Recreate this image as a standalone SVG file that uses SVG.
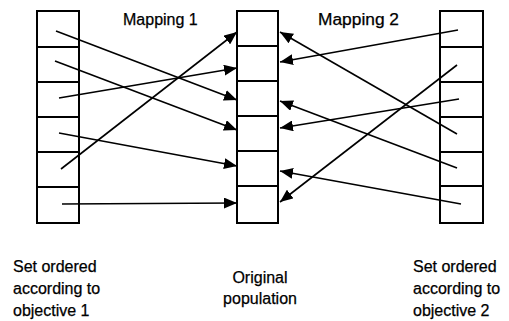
<svg xmlns="http://www.w3.org/2000/svg" width="509" height="321" viewBox="0 0 509 321">
<style>
.cell{fill:#fff;stroke:#000;stroke-width:2}
.conn{stroke:#000;stroke-width:1.6;fill:none}
text{font-family:"Liberation Sans",Arial,sans-serif;font-size:16px;fill:#000;stroke:#000;stroke-width:0.25}
</style>
<defs>
<marker id="ah" viewBox="0 0 13 11" refX="13" refY="5.5" markerWidth="13" markerHeight="11" markerUnits="userSpaceOnUse" orient="auto">
<path d="M0,0 L13,5.5 L0,11 Z" fill="#000"/>
</marker>
</defs>
<rect width="509" height="321" fill="#fff"/>
<g id="left-set">
<rect class="cell" x="37" y="11" width="42" height="36"/>
<rect class="cell" x="37" y="47" width="42" height="35"/>
<rect class="cell" x="37" y="82" width="42" height="35"/>
<rect class="cell" x="37" y="117" width="42" height="35"/>
<rect class="cell" x="37" y="152" width="42" height="35"/>
<rect class="cell" x="37" y="187" width="42" height="36"/>
</g>
<g id="original-population">
<rect class="cell" x="237" y="11" width="41" height="35"/>
<rect class="cell" x="237" y="46" width="41" height="35"/>
<rect class="cell" x="237" y="81" width="41" height="35"/>
<rect class="cell" x="237" y="116" width="41" height="35"/>
<rect class="cell" x="237" y="151" width="41" height="35"/>
<rect class="cell" x="237" y="186" width="41" height="37"/>
</g>
<g id="right-set">
<rect class="cell" x="440" y="11" width="43" height="36"/>
<rect class="cell" x="440" y="47" width="43" height="35"/>
<rect class="cell" x="440" y="82" width="43" height="35"/>
<rect class="cell" x="440" y="117" width="43" height="35"/>
<rect class="cell" x="440" y="152" width="43" height="34"/>
<rect class="cell" x="440" y="186" width="43" height="37"/>
</g>
<g id="connectors">
<line class="conn" x1="56" y1="31" x2="237" y2="100" marker-end="url(#ah)"/>
<line class="conn" x1="55" y1="61" x2="237" y2="130" marker-end="url(#ah)"/>
<line class="conn" x1="59" y1="98" x2="237" y2="68" marker-end="url(#ah)"/>
<line class="conn" x1="59" y1="133" x2="237" y2="166" marker-end="url(#ah)"/>
<line class="conn" x1="61" y1="169" x2="237" y2="32" marker-end="url(#ah)"/>
<line class="conn" x1="62" y1="204" x2="237" y2="203" marker-end="url(#ah)"/>
<line class="conn" x1="458" y1="30" x2="280" y2="62" marker-end="url(#ah)"/>
<line class="conn" x1="457" y1="65" x2="280" y2="202" marker-end="url(#ah)"/>
<line class="conn" x1="459" y1="99" x2="280" y2="128" marker-end="url(#ah)"/>
<line class="conn" x1="457" y1="134" x2="280" y2="32" marker-end="url(#ah)"/>
<line class="conn" x1="457" y1="168" x2="280" y2="101" marker-end="url(#ah)"/>
<line class="conn" x1="461" y1="204" x2="280" y2="171" marker-end="url(#ah)"/>
</g>
<g id="labels">
<text x="123" y="25">Mapping 1</text>
<text x="318" y="25" textLength="81" lengthAdjust="spacingAndGlyphs">Mapping 2</text>
<text x="13" y="272">Set ordered</text>
<text x="13" y="294">according to</text>
<text x="13" y="316">objective 1</text>
<text x="260" y="283" text-anchor="middle">Original</text>
<text x="260" y="304" text-anchor="middle">population</text>
<text x="413" y="272">Set ordered</text>
<text x="413" y="294">according to</text>
<text x="413" y="316">objective 2</text>
</g>
</svg>
